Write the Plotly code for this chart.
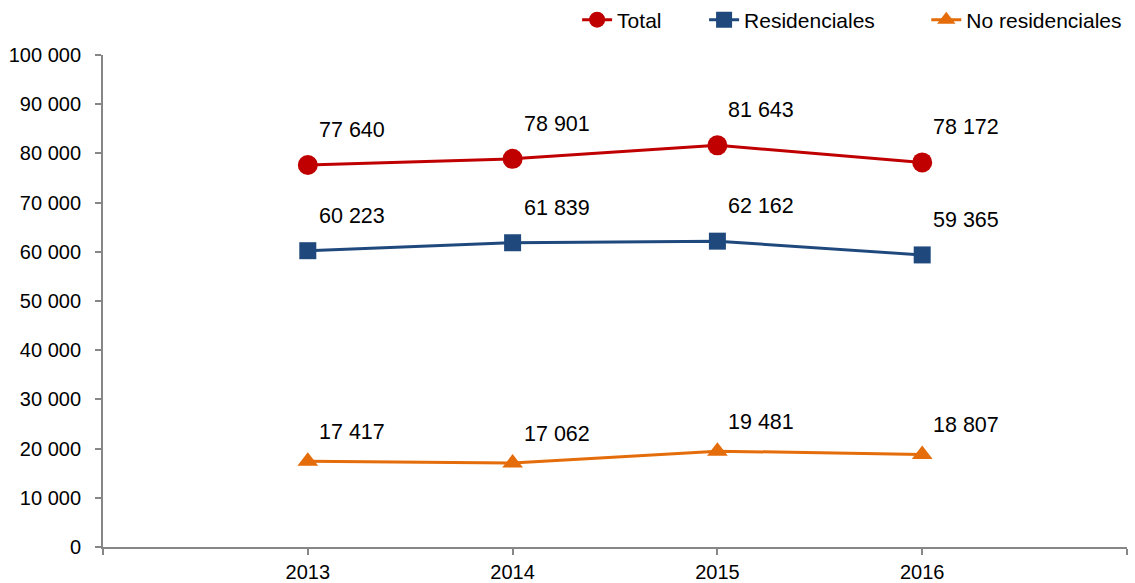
import plotly.graph_objects as go

years = [2013, 2014, 2015, 2016]
total = [77640, 78901, 81643, 78172]
residenciales = [60223, 61839, 62162, 59365]
no_residenciales = [17417, 17062, 19481, 18807]

y_ticks = list(range(0, 100001, 10000))
y_tick_text = ["0" if v == 0 else f"{v // 1000} 000" for v in y_ticks]

FONT = "Arial, Liberation Sans, sans-serif"
AXIS_GREY = "#868686"


def fmt(v):
    return f"{v:,}".replace(",", " ")


# name, values, colour, marker, marker size, label lift (px), legend id, legend x
series = [
    ("Total", total, "#C00000", "circle", 20, 35, "legend", 0.463),
    ("Residenciales", residenciales, "#1F497D", "square", 17, 35, "legend2", 0.587),
    ("No residenciales", no_residenciales, "#E46C0A", "triangle-up", 18, 29, "legend3", 0.804),
]

fig = go.Figure()
annotations = []
legends = {}
for name, values, color, symbol, msize, lift, leg, leg_x in series:
    fig.add_trace(go.Scatter(
        x=years, y=values, name=name, mode="lines+markers",
        line=dict(color=color, width=3),
        marker=dict(symbol=symbol, size=msize, color=color),
        hoverinfo="skip", legend=leg,
    ))
    legends[leg] = dict(
        orientation="h", x=leg_x, xanchor="left", y=1.071, yanchor="middle",
        font=dict(family=FONT, size=21, color="#000000"),
        bgcolor="rgba(0,0,0,0)", itemwidth=30,
    )
    for x, v in zip(years, values):
        annotations.append(dict(
            x=x, y=v, xref="x", yref="y", text=fmt(v), showarrow=False,
            xshift=44, yshift=lift, font=dict(family=FONT, size=21.5, color="#000000"),
        ))

fig.update_layout(
    width=1135, height=583,
    margin=dict(l=103, r=8, t=55, b=36, autoexpand=False),
    paper_bgcolor="white", plot_bgcolor="white",
    font=dict(family=FONT, size=20, color="#000000"),
    annotations=annotations,
    showlegend=True,
    **legends,
)

fig.update_xaxes(
    range=[2012, 2017], tickvals=[2012] + years + [2017],
    ticktext=[""] + [str(y) for y in years] + [""],
    showline=True, linecolor=AXIS_GREY, linewidth=2,
    ticks="outside", ticklen=6, tickcolor=AXIS_GREY, tickwidth=2,
    showgrid=False, zeroline=False, fixedrange=True,
    tickfont=dict(family=FONT, size=20, color="#000000"),
)
fig.update_yaxes(
    range=[0, 100000], tickvals=y_ticks, ticktext=y_tick_text,
    showline=True, linecolor=AXIS_GREY, linewidth=2,
    ticks="outside", ticklen=6, tickcolor=AXIS_GREY, tickwidth=2,
    showgrid=False, zeroline=False, fixedrange=True,
    ticklabelstandoff=10,
    tickfont=dict(family=FONT, size=20, color="#000000"),
)

fig.write_html("out.html", config={"displayModeBar": False})
